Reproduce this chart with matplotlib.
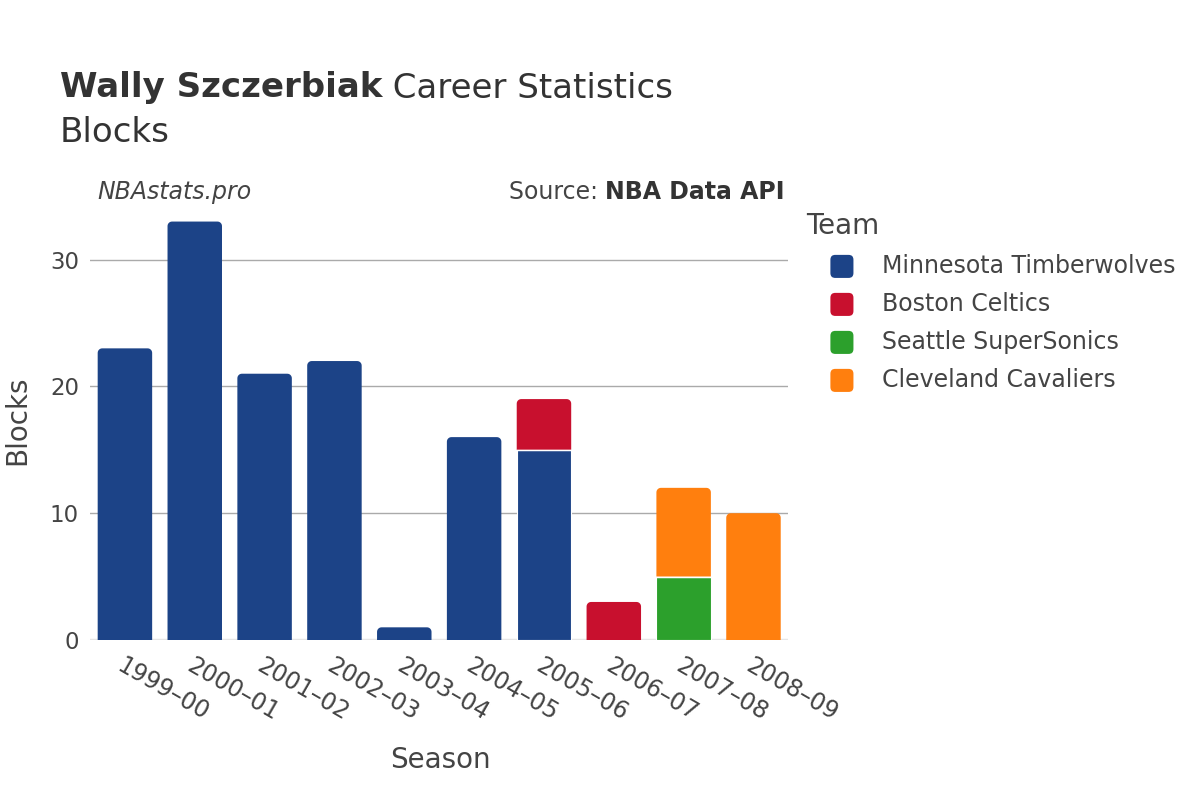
import matplotlib
matplotlib.use("Agg")
import matplotlib.pyplot as plt
from matplotlib.patches import FancyBboxPatch, Polygon
import numpy as np

plt.rcParams['font.family'] = ['DejaVu Sans']

seasons = ["1999–00", "2000–01", "2001–02", "2002–03", "2003–04",
           "2004–05", "2005–06", "2006–07", "2007–08", "2008–09"]
teams = ["Minnesota Timberwolves", "Boston Celtics", "Seattle SuperSonics", "Cleveland Cavaliers"]
minnesota = [23, 33, 21, 22, 1, 16, 15, 0, 0, 0]
boston = [0, 0, 0, 0, 0, 0, 4, 3, 0, 0]
seattle = [0, 0, 0, 0, 0, 0, 0, 0, 5, 0]
cleveland = [0, 0, 0, 0, 0, 0, 0, 0, 7, 10]
colors = ["#1c4387", "#c8102e", "#2ca02c", "#ff7f0e"]
yticks = [0, 10, 20, 30]

TXT = "#444444"
fig = plt.figure(figsize=(12, 8), dpi=100)
ax = fig.add_axes([0.075, 0.2, 0.582, 0.55])
ax.set_xlim(-0.5, len(seasons) - 0.5)
ax.set_ylim(0, 34.7)

x = np.arange(len(seasons))
all_vals = [minnesota, boston, seattle, cleveland]
totals = np.sum(np.array(all_vals, dtype=float), axis=0)
bottom = np.zeros(len(seasons))
# pixel scale for rounding of top corners
px_x = 1 / 69.8
px_y = 1 / 12.67
r_px = 4.5


def rounded_top(x0, y0, w, h, rx, ry, n=8):
    ry = min(ry, h)
    pts = [(x0, y0), (x0 + w, y0), (x0 + w, y0 + h - ry)]
    th = np.linspace(0, np.pi / 2, n)
    cx, cy = x0 + w - rx, y0 + h - ry
    pts += [(cx + rx * np.cos(t), cy + ry * np.sin(t)) for t in th]
    cx = x0 + rx
    pts += [(cx + rx * np.cos(t), cy + ry * np.sin(t)) for t in th + np.pi / 2]
    pts.append((x0, y0))
    return pts


for vals, col in zip(all_vals, colors):
    v = np.array(vals, dtype=float)
    mask = v > 0
    bars = ax.bar(x[mask], v[mask], width=0.78, bottom=bottom[mask], color=col,
                  edgecolor="white", linewidth=0.8, zorder=3)
    for rect, xi in zip(bars, x[mask]):
        top = rect.get_y() + rect.get_height()
        if abs(top - totals[xi]) < 1e-9:
            rect.set_visible(False)
            x0, y0, w, h = rect.get_x(), rect.get_y(), rect.get_width(), rect.get_height()
            poly = Polygon(rounded_top(x0, y0, w, h, r_px * px_x, r_px * px_y),
                           closed=True, facecolor=col, edgecolor="none", zorder=3)
            ax.add_patch(poly)
            if y0 > 0:
                ax.plot([x0, x0 + w], [y0, y0], color="white", linewidth=1, zorder=4)
    bottom += v

ax.set_yticks(yticks)
ax.set_yticklabels([str(t) for t in yticks], fontsize=16.5, color=TXT)
ax.set_xticks(x)
ax.set_xticklabels(seasons, rotation=-30, ha="left", va="top",
                   rotation_mode="anchor", fontsize=17, color=TXT)
ax.tick_params(axis="both", length=0, pad=8)
ax.tick_params(axis="x", pad=10)
ax.grid(axis="y", color="#aaaaaa", linewidth=1, zorder=0)
ax.axhline(0, color="#e6e6e6", linewidth=2.5, zorder=2)
for s in ax.spines.values():
    s.set_visible(False)

fig.text(0.0145, 0.475, "Blocks", rotation=90, fontsize=20, color=TXT, ha="center", va="center")
fig.text(0.367, 0.05, "Season", fontsize=20, color=TXT, ha="center", va="center")

renderer = fig.canvas.get_renderer()
t1 = fig.text(0.05, 0.89, "Wally Szczerbiak", fontsize=24.5, fontweight="bold", color="#333333", va="center")
bb = t1.get_window_extent(renderer=renderer)
fig.text(bb.x1 / fig.bbox.width, 0.89, " Career Statistics", fontsize=24.5, color="#333333", va="center")
fig.text(0.05, 0.835, "Blocks", fontsize=24.5, color="#333333", va="center")

fig.text(0.081, 0.76, "NBAstats.pro", fontsize=17, style="italic", color=TXT, va="center")
t2 = fig.text(0.654, 0.76, "NBA Data API", fontsize=17, fontweight="bold", color="#333333", va="center", ha="right")
bb2 = t2.get_window_extent(renderer=renderer)
fig.text(bb2.x0 / fig.bbox.width, 0.76, "Source: ", fontsize=17, color=TXT, va="center", ha="right")

fig.text(0.672, 0.717, "Team", fontsize=20, color=TXT, va="center")
for i, (t, c) in enumerate(zip(teams, colors)):
    yy = 0.667 - i * 0.0475
    p = FancyBboxPatch((0.692, yy - 0.0144), 0.0192, 0.0288,
                       boxstyle="round,pad=0,rounding_size=0.004",
                       mutation_aspect=1.5,
                       transform=fig.transFigure, facecolor=c, edgecolor="none")
    fig.patches.append(p)
    fig.text(0.735, yy, t, fontsize=17, color=TXT, va="center")

fig.savefig("out.png", dpi=100, facecolor="white")
